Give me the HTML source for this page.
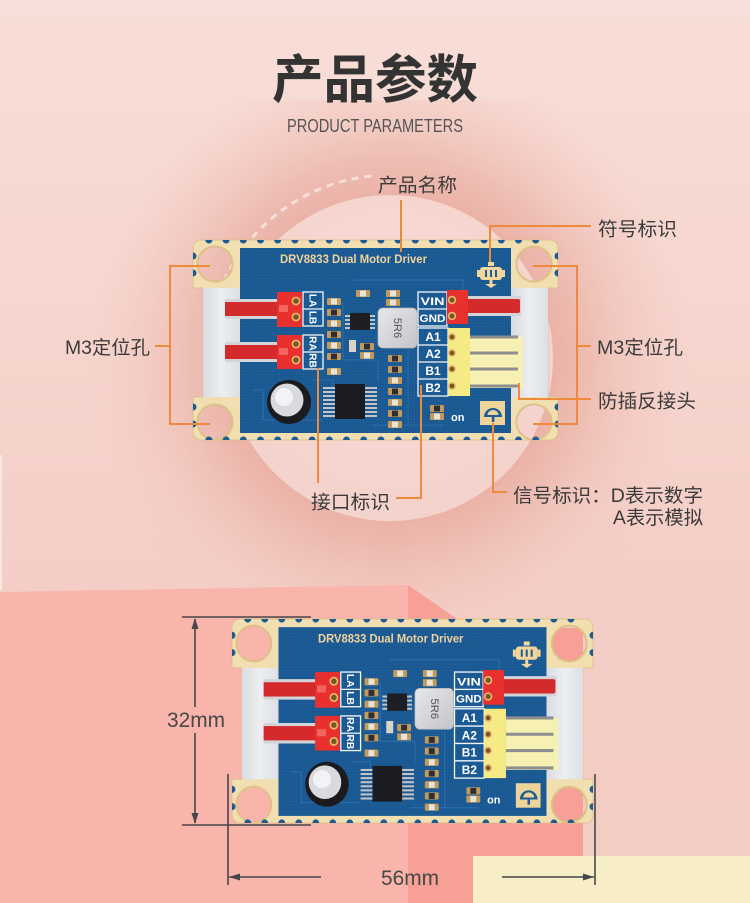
<!DOCTYPE html>
<html><head><meta charset="utf-8"><style>
html,body{margin:0;padding:0;background:#f5d0c8;}
svg{display:block}
.lb{font-family:"Liberation Sans","Noto Sans CJK SC",sans-serif;font-size:19px;fill:#3b3b3b}
.bt{font-family:"Liberation Sans",sans-serif;font-weight:bold;fill:#fff}
</style></head><body>
<svg width="750" height="903" viewBox="0 0 750 903" xmlns="http://www.w3.org/2000/svg">
<defs>
<linearGradient id="bg" x1="0" y1="0" x2="0" y2="1">
<stop offset="0" stop-color="#f8ded8"/><stop offset="0.6" stop-color="#f4cfc7"/><stop offset="1" stop-color="#f3cbc3"/>
</linearGradient>
<radialGradient id="glow" cx="390" cy="358" r="300" gradientUnits="userSpaceOnUse">
<stop offset="0" stop-color="#eaafa4"/>
<stop offset="0.54" stop-color="#ebb2a7"/>
<stop offset="0.66" stop-color="#eebdb3"/>
<stop offset="0.85" stop-color="#f2c8bf" stop-opacity="0.55"/>
<stop offset="1" stop-color="#f4cdc5" stop-opacity="0"/>
</radialGradient>
<radialGradient id="circ" cx="390" cy="330" r="170" gradientUnits="userSpaceOnUse">
<stop offset="0" stop-color="#f8dcd6"/><stop offset="1" stop-color="#f5d3cd"/>
</radialGradient>
<pattern id="tex" width="3" height="3" patternUnits="userSpaceOnUse"><rect width="1.5" height="1.5" fill="#164c80" opacity="0.55"/></pattern>
<linearGradient id="ind" x1="0" y1="0" x2="1" y2="1"><stop offset="0" stop-color="#e6e7ea"/><stop offset="1" stop-color="#c4c5c9"/></linearGradient>
<linearGradient id="gray" x1="0" y1="0" x2="1" y2="0"><stop offset="0" stop-color="#d9dce2"/><stop offset="0.5" stop-color="#eceef1"/><stop offset="1" stop-color="#dcdfe4"/></linearGradient>
<g id="smd"><rect width="14" height="7" rx="1" fill="#c29a5c"/><rect x="4" y="0.6" width="6" height="5.8" fill="#e9e4da"/></g>
<g id="smdk"><rect width="14" height="7" rx="1" fill="#c29a5c"/><rect x="4" y="0.6" width="6" height="5.8" fill="#2c2f36"/></g>
<g id="pcb">
<path fill-rule="evenodd" fill="#f1dfb2" stroke="#d6bb84" stroke-width="0.7" d="M8,0 H357 A8,8 0 0 1 365,8 V48 H355 V157 H365 V192 A8,8 0 0 1 357,200 H8 A8,8 0 0 1 0,192 V157 H10 V48 H0 V8 A8,8 0 0 1 8,0 Z
M5,24 a17,17 0 1 0 34,0 a17,17 0 1 0 -34,0 Z
M324,24 a17,17 0 1 0 34,0 a17,17 0 1 0 -34,0 Z
M5,182 a17,17 0 1 0 34,0 a17,17 0 1 0 -34,0 Z
M324,182 a17,17 0 1 0 34,0 a17,17 0 1 0 -34,0 Z"/>
<rect x="10" y="48" width="37" height="109" fill="url(#gray)"/>
<rect x="318" y="48" width="37" height="109" fill="url(#gray)"/>
<rect x="47" y="8" width="271" height="185" fill="#1c5c97"/>
<rect x="47" y="8" width="271" height="185" fill="url(#tex)"/>
<g fill="none" stroke="#e0c283" stroke-width="1.3">
<circle cx="22" cy="24" r="18"/><circle cx="341" cy="24" r="18"/><circle cx="22" cy="182" r="18"/><circle cx="341" cy="182" r="18"/>
</g>
<g fill="#1d5b92">
<path d="M12.4,0a3.5,3.5 0 0 0 7,0z M29.6,0a3.5,3.5 0 0 0 7,0z M46.8,0a3.5,3.5 0 0 0 7,0z M64,0a3.5,3.5 0 0 0 7,0z M81.2,0a3.5,3.5 0 0 0 7,0z M98.4,0a3.5,3.5 0 0 0 7,0z M115.6,0a3.5,3.5 0 0 0 7,0z M132.8,0a3.5,3.5 0 0 0 7,0z M150,0a3.5,3.5 0 0 0 7,0z M167.2,0a3.5,3.5 0 0 0 7,0z M184.4,0a3.5,3.5 0 0 0 7,0z M201.6,0a3.5,3.5 0 0 0 7,0z M218.8,0a3.5,3.5 0 0 0 7,0z M236,0a3.5,3.5 0 0 0 7,0z M253.2,0a3.5,3.5 0 0 0 7,0z M270.4,0a3.5,3.5 0 0 0 7,0z M287.6,0a3.5,3.5 0 0 0 7,0z M304.8,0a3.5,3.5 0 0 0 7,0z M322,0a3.5,3.5 0 0 0 7,0z M339.2,0a3.5,3.5 0 0 0 7,0z"/>
<path d="M12.4,200a3.5,3.5 0 0 1 7,0z M29.6,200a3.5,3.5 0 0 1 7,0z M46.8,200a3.5,3.5 0 0 1 7,0z M64,200a3.5,3.5 0 0 1 7,0z M81.2,200a3.5,3.5 0 0 1 7,0z M98.4,200a3.5,3.5 0 0 1 7,0z M115.6,200a3.5,3.5 0 0 1 7,0z M132.8,200a3.5,3.5 0 0 1 7,0z M150,200a3.5,3.5 0 0 1 7,0z M167.2,200a3.5,3.5 0 0 1 7,0z M184.4,200a3.5,3.5 0 0 1 7,0z M201.6,200a3.5,3.5 0 0 1 7,0z M218.8,200a3.5,3.5 0 0 1 7,0z M236,200a3.5,3.5 0 0 1 7,0z M253.2,200a3.5,3.5 0 0 1 7,0z M270.4,200a3.5,3.5 0 0 1 7,0z M287.6,200a3.5,3.5 0 0 1 7,0z M304.8,200a3.5,3.5 0 0 1 7,0z M322,200a3.5,3.5 0 0 1 7,0z M339.2,200a3.5,3.5 0 0 1 7,0z"/>
<path d="M0,12.5a3.5,3.5 0 0 1 0,7z M0,29.5a3.5,3.5 0 0 1 0,7z M0,163.5a3.5,3.5 0 0 1 0,7z M0,180.5a3.5,3.5 0 0 1 0,7z M365,12.5a3.5,3.5 0 0 0 0,7z M365,29.5a3.5,3.5 0 0 0 0,7z M365,163.5a3.5,3.5 0 0 0 0,7z M365,180.5a3.5,3.5 0 0 0 0,7z"/>
</g>
<g stroke="#2d73b2" stroke-width="1.1" fill="none" opacity="0.8">
<path d="M150,62 V120 H185 V140"/><path d="M120,140 H140 V150"/><path d="M215,110 V185 H250"/><path d="M60,150 H70 V180 H130"/><path d="M180,185 H230"/><path d="M160,40 H270 V52"/>
</g>
<!-- motor icon -->
<g fill="#f2d69c">
<rect x="295" y="22" width="6" height="4"/><rect x="287" y="27" width="22" height="13" rx="3"/>
<rect x="284" y="30" width="3" height="7"/><rect x="309" y="30" width="3" height="7"/>
<rect x="296.5" y="40" width="3" height="6"/><path d="M292,44 H304 L298,48 Z"/>
</g>
<g fill="#1c5c97"><rect x="292" y="30" width="2" height="7"/><rect x="297" y="30" width="2" height="7"/><rect x="302" y="30" width="2" height="7"/></g>
<!-- left headers -->
<rect x="32" y="59" width="56" height="20" rx="1.5" fill="#d3d4d8"/>
<rect x="32" y="62" width="56" height="14" fill="#d42a2c"/>
<rect x="84" y="52" width="25" height="35" fill="#e8302e"/>
<rect x="86" y="65" width="9" height="7" fill="#f2645e"/>
<rect x="32" y="102" width="56" height="20" rx="1.5" fill="#d3d4d8"/>
<rect x="32" y="105" width="56" height="14" fill="#d42a2c"/>
<rect x="84" y="95" width="25" height="34" fill="#e8302e"/>
<rect x="86" y="108" width="9" height="7" fill="#f2645e"/>
<g fill="#7a5526" stroke="#e6bd6e" stroke-width="1.6">
<circle cx="103" cy="61" r="3.6"/><circle cx="103" cy="77" r="3.6"/><circle cx="103" cy="104" r="3.6"/><circle cx="103" cy="120" r="3.6"/>
</g>
<!-- label boxes -->
<g fill="none" stroke="#f4f6f8" stroke-width="1.3">
<rect x="110" y="52" width="20" height="34"/><path d="M110,69 H130"/>
<rect x="110" y="95" width="20" height="34"/><path d="M110,112 H130"/>
<rect x="225" y="52" width="29" height="34"/><path d="M225,69 H254"/>
<rect x="225" y="88" width="30" height="68"/><path d="M225,105 H255 M225,122 H255 M225,139 H255"/>
</g>
<!-- right header -->
<rect x="270" y="56" width="58" height="20" rx="2" fill="#d3d4d8"/>
<rect x="270" y="59" width="57" height="14" rx="2" fill="#d42a2c"/>
<rect x="254" y="50" width="21" height="34" fill="#e8302e"/>
<!-- yellow connector -->
<rect x="277" y="97" width="53" height="51" fill="#f6f1b2"/>
<g stroke="#8e8e90" stroke-width="3"><path d="M277,97 H325 M277,113 H325 M277,129 H325 M277,146 H325"/></g>
<rect x="255" y="88" width="22" height="68" fill="#f6ea86"/>
<g fill="#7a5526" stroke="#e6bd6e" stroke-width="1.6">
<circle cx="259" cy="97" r="3.2"/><circle cx="259" cy="113" r="3.2"/><circle cx="259" cy="129" r="3.2"/><circle cx="259" cy="146" r="3.2"/>
<circle cx="259" cy="60" r="3.4"/><circle cx="259" cy="76" r="3.4"/>
</g>
<!-- inductor -->
<rect x="185" y="68" width="39" height="40" rx="5" fill="url(#ind)" stroke="#b5b6ba" stroke-width="0.8"/>
<!-- small IC -->
<g fill="#c4c4c6"><rect x="152" y="75" width="5" height="2"/><rect x="152" y="79" width="5" height="2"/><rect x="152" y="83" width="5" height="2"/><rect x="152" y="87" width="5" height="2"/>
<rect x="177" y="75" width="5" height="2"/><rect x="177" y="79" width="5" height="2"/><rect x="177" y="83" width="5" height="2"/><rect x="177" y="87" width="5" height="2"/></g>
<rect x="157" y="73" width="20" height="17" fill="#1e1f24"/>
<!-- big IC -->
<g fill="#c4c4c6">
<rect x="130" y="147" width="14" height="2"/><rect x="130" y="151" width="14" height="2"/><rect x="130" y="155" width="14" height="2"/><rect x="130" y="159" width="14" height="2"/><rect x="130" y="163" width="14" height="2"/><rect x="130" y="167" width="14" height="2"/><rect x="130" y="171" width="14" height="2"/><rect x="130" y="175" width="14" height="2"/>
<rect x="170" y="147" width="14" height="2"/><rect x="170" y="151" width="14" height="2"/><rect x="170" y="155" width="14" height="2"/><rect x="170" y="159" width="14" height="2"/><rect x="170" y="163" width="14" height="2"/><rect x="170" y="167" width="14" height="2"/><rect x="170" y="171" width="14" height="2"/><rect x="170" y="175" width="14" height="2"/>
</g>
<rect x="142" y="144" width="30" height="35" fill="#1b1c21"/>
<!-- capacitor -->
<circle cx="96" cy="162" r="22" fill="#1b1b1f"/>
<circle cx="94" cy="160" r="16.5" fill="#d9dadd"/>
<circle cx="91" cy="157" r="9" fill="#f3f3f5"/>
<!-- smd parts -->
<use href="#smd" x="134" y="58"/><use href="#smdk" x="134" y="69"/><use href="#smd" x="134" y="80"/><use href="#smdk" x="134" y="91"/><use href="#smd" x="134" y="102"/><use href="#smdk" x="134" y="113"/><use href="#smd" x="134" y="128"/>
<use href="#smdk" x="195" y="115"/><use href="#smdk" x="195" y="126"/><use href="#smd" x="195" y="137"/><use href="#smdk" x="195" y="148"/><use href="#smd" x="195" y="159"/><use href="#smdk" x="195" y="170"/><use href="#smd" x="195" y="181"/>
<use href="#smd" x="163" y="50"/><use href="#smd" x="193" y="50"/><use href="#smd" x="193" y="59"/>
<use href="#smdk" x="167" y="103"/><use href="#smd" x="167" y="112"/>
<rect x="156" y="100" width="7" height="12" fill="#d9d4c8"/>
<use href="#smdk" x="237" y="165"/><use href="#smd" x="237" y="173"/>
<!-- D box -->
<rect x="287" y="161" width="25" height="24" fill="#efd49a"/>
<path d="M291,177 H309 A9,9 0 0 0 291,177 Z" fill="#1c5c97"/>
<path d="M294.5,175 H305.5 A5.5,5 0 0 0 294.5,175 Z" fill="#efd49a"/>
<rect x="298.8" y="177" width="2.6" height="5" fill="#1c5c97"/>
</g>
</defs>

<!-- background -->
<rect width="750" height="903" fill="url(#bg)"/>
<rect x="0" y="100" width="750" height="520" fill="url(#glow)"/>
<circle cx="390" cy="358" r="163" fill="url(#circ)"/>
<path d="M224.1,280.7 A183,183 0 0 1 374,175.7" fill="none" stroke="#ffffff" stroke-opacity="0.55" stroke-width="3" stroke-dasharray="7 6"/>
<rect x="0" y="455" width="2" height="135" fill="#fbe6e2"/>

<!-- lower blocks -->
<path d="M0,592 L408,585 L408,903 L0,903 Z" fill="#f9b5ab"/>
<path d="M408,585 L470,628 L583,628 L583,903 L408,903 Z" fill="#f6a096"/>
<rect x="473" y="856" width="277" height="47" fill="#f7eec7"/>

<!-- title -->
<text x="375" y="98" text-anchor="middle" font-family="'Liberation Sans','Noto Sans CJK SC',sans-serif" font-weight="bold" font-size="52" fill="#333333" textLength="206" lengthAdjust="spacingAndGlyphs">产品参数</text>
<text x="287" y="132" font-family="'Liberation Sans',sans-serif" font-size="18" fill="#555555" textLength="176" lengthAdjust="spacingAndGlyphs">PRODUCT PARAMETERS</text>

<!-- board 1 -->
<use href="#pcb" transform="translate(193,240)"/>
<g transform="translate(193,240)">
<text x="87" y="23" font-family="'Liberation Sans',sans-serif" font-weight="bold" font-size="12" fill="#f1d49a" textLength="147" lengthAdjust="spacingAndGlyphs">DRV8833 Dual Motor Driver</text>
<text class="bt" font-size="10" transform="translate(116.5,60.5) rotate(90)" text-anchor="middle">LA</text>
<text class="bt" font-size="10" transform="translate(116.5,77.5) rotate(90)" text-anchor="middle">LB</text>
<text class="bt" font-size="10" transform="translate(116.5,103.5) rotate(90)" text-anchor="middle">RA</text>
<text class="bt" font-size="10" transform="translate(116.5,120.5) rotate(90)" text-anchor="middle">RB</text>
<text class="bt" x="239.5" y="65" font-size="11" text-anchor="middle" textLength="24" lengthAdjust="spacingAndGlyphs">VIN</text>
<text class="bt" x="239.5" y="82" font-size="11" text-anchor="middle" textLength="26" lengthAdjust="spacingAndGlyphs">GND</text>
<text class="bt" x="240" y="101" font-size="12" text-anchor="middle">A1</text>
<text class="bt" x="240" y="118" font-size="12" text-anchor="middle">A2</text>
<text class="bt" x="240" y="135" font-size="12" text-anchor="middle">B1</text>
<text class="bt" x="240" y="152" font-size="12" text-anchor="middle">B2</text>
<text font-family="'Liberation Sans',sans-serif" font-size="11" fill="#555" transform="translate(201,88) rotate(90)" text-anchor="middle">5R6</text>
<text class="bt" x="258" y="181" font-size="11">on</text>
</g>

<!-- leader lines -->
<g fill="none" stroke="#ee8a3c" stroke-width="2">
<path d="M401,200 V252"/>
<path d="M591,226 H490 V262"/>
<path d="M155,346 H170 M210,266 H170 V424 H210"/>
<path d="M591,346 H577 M533,266 H577 V424 H533"/>
<path d="M591,399 H519 V383"/>
<path d="M396,498 H421 V385"/>
<path d="M318,483 V368"/>
<path d="M507,492 H493 V423"/>
</g>

<!-- labels -->
<text class="lb" x="378" y="191.5" textLength="79" lengthAdjust="spacingAndGlyphs">产品名称</text>
<text class="lb" x="598" y="235.5" textLength="79" lengthAdjust="spacingAndGlyphs">符号标识</text>
<text class="lb" x="65" y="354" textLength="85" lengthAdjust="spacingAndGlyphs">M3定位孔</text>
<text class="lb" x="597" y="354" textLength="86" lengthAdjust="spacingAndGlyphs">M3定位孔</text>
<text class="lb" x="598" y="407.5" textLength="98" lengthAdjust="spacingAndGlyphs">防插反接头</text>
<text class="lb" x="311" y="508.5" textLength="79" lengthAdjust="spacingAndGlyphs">接口标识</text>
<text class="lb" x="513" y="502" textLength="190" lengthAdjust="spacingAndGlyphs">信号标识：D表示数字</text>
<text class="lb" x="613" y="524" textLength="90" lengthAdjust="spacingAndGlyphs">A表示模拟</text>

<!-- board 2 -->
<use href="#pcb" transform="translate(232,619) scale(0.989,1.02)"/>
<g transform="translate(232,619) scale(0.989,1.02)">
<text x="87" y="23" font-family="'Liberation Sans',sans-serif" font-weight="bold" font-size="12" fill="#f1d49a" textLength="147" lengthAdjust="spacingAndGlyphs">DRV8833 Dual Motor Driver</text>
<text class="bt" font-size="10" transform="translate(116.5,60.5) rotate(90)" text-anchor="middle">LA</text>
<text class="bt" font-size="10" transform="translate(116.5,77.5) rotate(90)" text-anchor="middle">LB</text>
<text class="bt" font-size="10" transform="translate(116.5,103.5) rotate(90)" text-anchor="middle">RA</text>
<text class="bt" font-size="10" transform="translate(116.5,120.5) rotate(90)" text-anchor="middle">RB</text>
<text class="bt" x="239.5" y="65" font-size="11" text-anchor="middle" textLength="24" lengthAdjust="spacingAndGlyphs">VIN</text>
<text class="bt" x="239.5" y="82" font-size="11" text-anchor="middle" textLength="26" lengthAdjust="spacingAndGlyphs">GND</text>
<text class="bt" x="240" y="101" font-size="12" text-anchor="middle">A1</text>
<text class="bt" x="240" y="118" font-size="12" text-anchor="middle">A2</text>
<text class="bt" x="240" y="135" font-size="12" text-anchor="middle">B1</text>
<text class="bt" x="240" y="152" font-size="12" text-anchor="middle">B2</text>
<text font-family="'Liberation Sans',sans-serif" font-size="11" fill="#555" transform="translate(201,88) rotate(90)" text-anchor="middle">5R6</text>
<text class="bt" x="258" y="181" font-size="11">on</text>
</g>

<!-- dimensions -->
<g stroke="#474747" stroke-width="1.6" fill="none">
<path d="M182,617 H311 M182,825 H311"/>
<path d="M195,619 V707 M195,733 V823"/>
<path d="M228,774 V885 M595,774 V885"/>
<path d="M229,877 H321 M502,877 H594"/>
</g>
<g fill="#474747">
<path d="M195,618 L191.5,629 L198.5,629 Z"/>
<path d="M195,824 L191.5,813 L198.5,813 Z"/>
<path d="M229,877 L240,873.5 L240,880.5 Z"/>
<path d="M594,877 L583,873.5 L583,880.5 Z"/>
</g>
<text x="167" y="727" font-family="'Liberation Sans',sans-serif" font-size="21" fill="#474747" textLength="58" lengthAdjust="spacingAndGlyphs">32mm</text>
<text x="381" y="885" font-family="'Liberation Sans',sans-serif" font-size="21" fill="#474747" textLength="58" lengthAdjust="spacingAndGlyphs">56mm</text>
</svg>
</body></html>
